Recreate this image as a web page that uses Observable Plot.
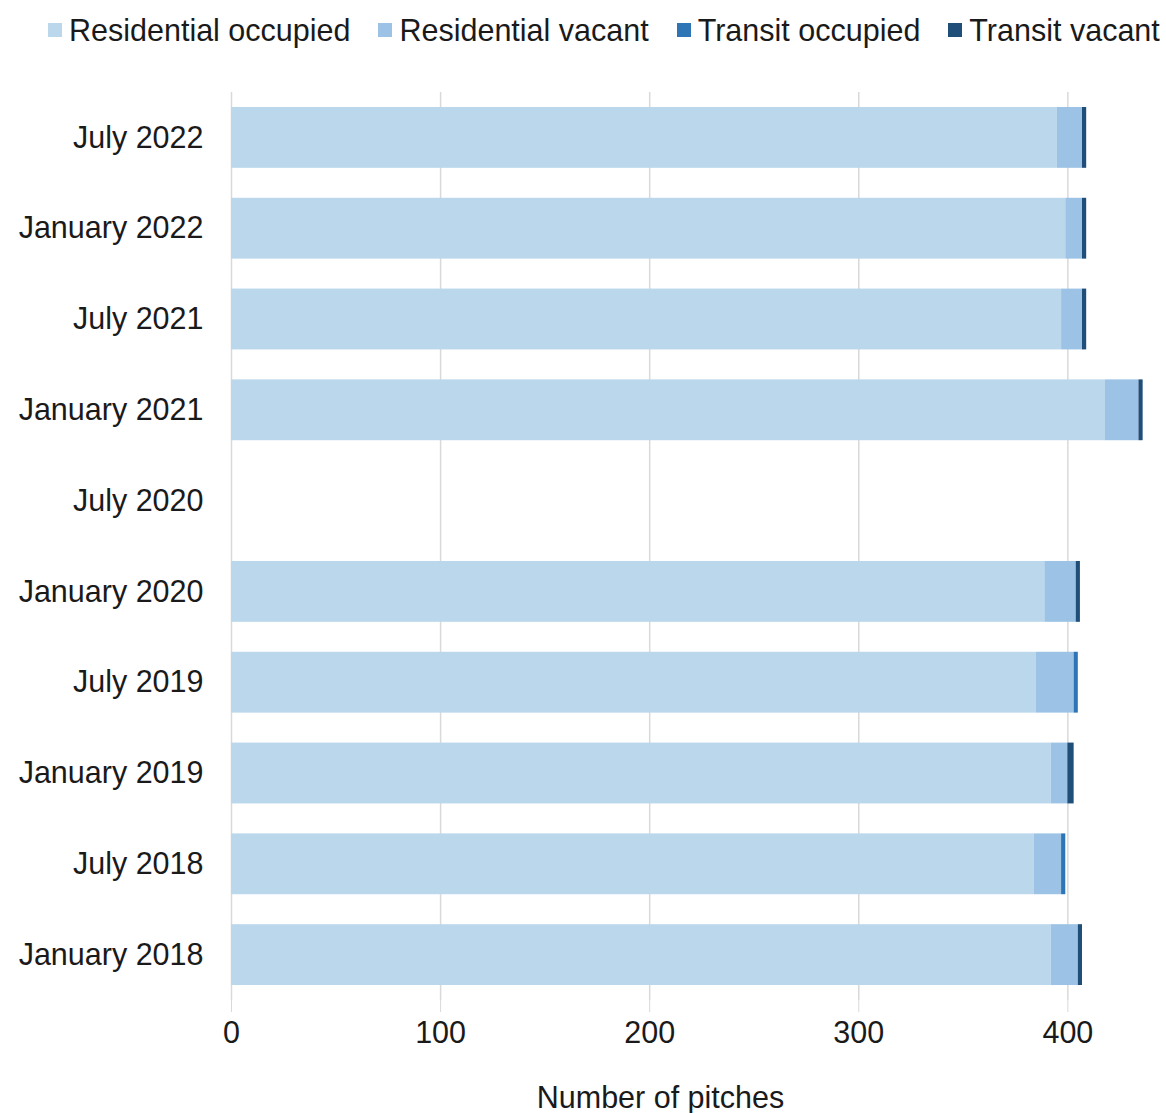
<!DOCTYPE html>
<html>
<head>
<meta charset="utf-8">
<script src="https://cdn.jsdelivr.net/npm/d3@7"></script>
<script src="https://cdn.jsdelivr.net/npm/@observablehq/plot@0.6"></script>
<style>
  body { margin: 0; background: #fff; font-family: "Liberation Sans", Arial, sans-serif; color: #1a1a1a; }
  #legend { height: 60px; display: flex; align-items: center; font-size: 30.5px; padding-left: 48px; white-space: nowrap; }
  .item { display: flex; align-items: center; margin-right: 28px; }
  .sw { width: 14px; height: 14px; margin-right: 7px; }
  #chart svg { display: block; }
</style>
</head>
<body>
<div id="legend"></div>
<div id="chart"></div>
<script>
const periods = ["January 2018","July 2018","January 2019","July 2019","January 2020","July 2020","January 2021","July 2021","January 2022","July 2022"];
const seriesNames = ["Residential occupied","Residential vacant","Transit occupied","Transit vacant"];
const seriesColors = ["#bad7eb","#9cc3e5","#2e75b6","#1f4e79"];
const residentialOccupied = [392,384,392,385,389,null,418,397,399,395];
const residentialVacant   = [13,13,8,18,15,null,16,10,8,12];
const transitOccupied     = [0,2,0,2,0,null,0,0,0,0];
const transitVacant       = [2,0,3,0,2,null,2,2,2,2];
const xTicks = [0,100,200,300,400];

const seriesValues = [residentialOccupied, residentialVacant, transitOccupied, transitVacant];
const data = [];
periods.forEach((p, i) => {
  seriesNames.forEach((s, j) => {
    const v = seriesValues[j][i];
    if (v != null && v > 0) data.push({period: p, series: s, value: v});
  });
});

const legend = document.getElementById("legend");
seriesNames.forEach((s, j) => {
  const it = document.createElement("div");
  it.className = "item";
  it.innerHTML = `<span class="sw" style="background:${seriesColors[j]}"></span><span>${s}</span>`;
  legend.appendChild(it);
});

const chart = Plot.plot({
  width: 1166,
  height: 1053,
  marginLeft: 231,
  marginRight: 15,
  marginTop: 32,
  marginBottom: 113,
  style: { fontFamily: '"Liberation Sans", Arial, sans-serif', fontSize: "30.5px", color: "#1a1a1a", background: "#fff" },
  x: { domain: [0, 440], ticks: xTicks, label: null },
  y: { domain: periods.slice().reverse(), paddingInner: 0.33, paddingOuter: 0.165, round: false, label: null },
  color: { domain: seriesNames, range: seriesColors },
  marks: [
    Plot.gridX(xTicks, { stroke: "#d9d9d9", strokeOpacity: 1, strokeWidth: 1.5 }),
    Plot.axisX({ ticks: xTicks, tickSize: 12, stroke: "#d9d9d9", tickPadding: 9, fontSize: 30.5, label: null }),
    Plot.text(["Number of pitches"], { frameAnchor: "bottom", dx: -31, dy: 107, fontSize: 30.5, fill: "#1a1a1a" }),
    Plot.axisY({ tickSize: 0, tickPadding: 28, fontSize: 30.5, label: null }),
    Plot.barX(data, Plot.stackX({ y: "period", x: "value", fill: "series", order: seriesNames }))
  ]
});
document.getElementById("chart").appendChild(chart);
</script>
</body>
</html>
